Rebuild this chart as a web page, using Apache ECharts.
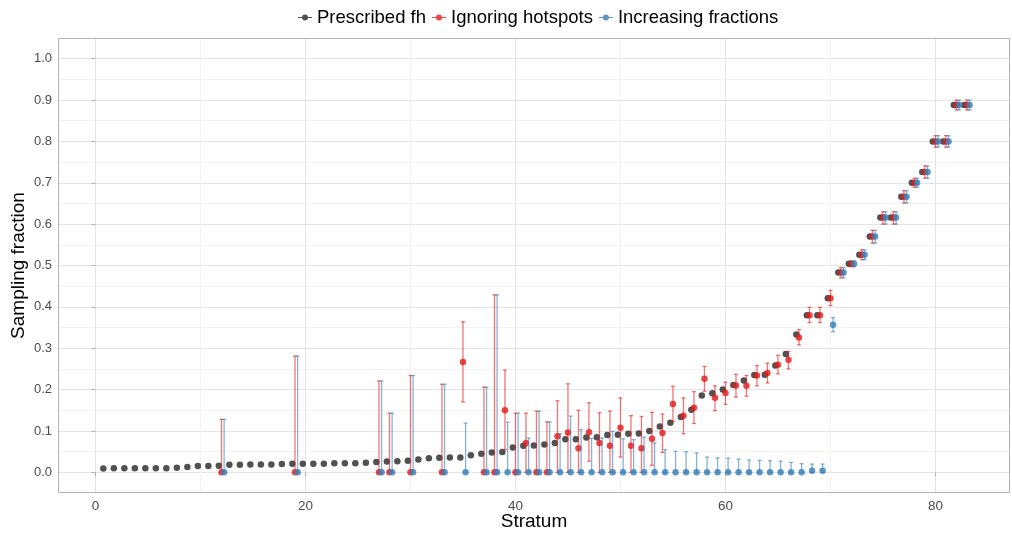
<!DOCTYPE html>
<html><head><meta charset="utf-8">
<script src="https://cdn.jsdelivr.net/npm/echarts@6/dist/echarts.min.js"></script>
<style>html,body{margin:0;padding:0;background:#fff}#c{width:1012px;height:533px}</style>
</head><body><div id="c"></div>
<script>
// ---- data ----
const strata = [1,2,3,4,5,6,7,8,9,10,11,12,13,14,15,16,17,18,19,20,21,22,23,24,25,26,27,28,29,30,
  31,32,33,34,35,36,37,38,39,40,41,42,43,44,45,46,47,48,49,50,51,52,53,54,55,56,57,58,59,60,
  61,62,63,64,65,66,67,68,69,70,71,72,73,74,75,76,77,78,79,80,81,82,83];
const prescribed = [0.009,0.010,0.010,0.010,0.010,0.010,0.010,0.011,0.013,0.015,0.015,0.016,0.018,0.018,0.019,0.019,0.019,0.020,0.021,0.021,
  0.021,0.021,0.022,0.022,0.022,0.023,0.025,0.026,0.027,0.028,0.031,0.034,0.035,0.036,0.036,0.041,0.045,0.048,0.049,0.060,
  0.064,0.065,0.067,0.071,0.080,0.080,0.084,0.085,0.090,0.091,0.093,0.094,0.100,0.111,0.120,0.134,0.151,0.186,0.191,0.200,
  0.211,0.222,0.235,0.236,0.258,0.286,0.333,0.380,0.380,0.421,0.483,0.504,0.526,0.570,0.616,0.616,0.666,0.700,0.726,0.800,
  0.800,0.888,0.888];

const estStrata = [12,19,27,28,30,33,35,37,38,39,40,41,42,43,44,45,46,47,48,49,50,51,52,53,54,55,56,57,58,59,60,
  61,62,63,64,65,66,67,68,69,70,71,72,73,74,75,76,77,78,79,80,81,82,83];

const ignoringVal = [0,0,0,0,0,0,0.267,0,0,0.150,0,0.071,0,0,0.087,0.096,0.058,0.097,0.071,0.064,0.108,0.064,0.058,0.081,0.095,0.165,0.137,0.156,0.226,0.180,0.192,
  0.210,0.209,0.234,0.240,0.260,0.272,0.326,0.380,0.380,0.421,0.483,0.504,0.526,0.570,0.616,0.616,0.666,0.700,0.726,0.800,0.800,0.888,0.888];
const ignoringLo = [0,0,0,0,0,0,0.170,0,0,0.055,0,0,0,0,0,0,0,0.027,0,0,0.037,0,0,0.017,0.048,0.123,0.093,0.118,0.196,0.149,0.164,
  0.182,0.184,0.209,0.216,0.238,0.250,0.308,0.362,0.362,0.403,0.470,0.497,0.514,0.554,0.600,0.600,0.651,0.689,0.711,0.786,0.786,0.876,0.876];
const ignoringHi = [0.128,0.281,0.221,0.143,0.234,0.213,0.364,0.206,0.429,0.247,0.143,0.143,0.148,0.122,0.173,0.214,0.150,0.168,0.144,0.148,0.180,0.137,0.135,0.145,0.141,0.208,0.180,0.195,0.256,0.209,0.218,
  0.237,0.234,0.258,0.264,0.283,0.292,0.345,0.399,0.399,0.440,0.495,0.511,0.538,0.585,0.630,0.630,0.681,0.711,0.741,0.814,0.814,0.900,0.900];

const increasingVal = [0,0,0,0,0,0,0,0,0,0,0,0,0,0,0,0,0,0,0,0,0,0,0,0,0,0,0,0,0,0,0,
  0,0,0,0,0,0,0,0.004,0.004,0.357,0.483,0.504,0.526,0.570,0.616,0.616,0.666,0.700,0.726,0.800,0.800,0.888,0.888];
const increasingLo = [0,0,0,0,0,0,0,0,0,0,0,0,0,0,0,0,0,0,0,0,0,0,0,0,0,0,0,0,0,0,0,
  0,0,0,0,0,0,0,0,0,0.340,0.470,0.497,0.514,0.554,0.600,0.600,0.651,0.689,0.711,0.786,0.786,0.876,0.876];
const increasingHi = [0.128,0.281,0.221,0.143,0.234,0.213,0.119,0.206,0.429,0.121,0.143,0.083,0.148,0.122,0.093,0.136,0.103,0.082,0.083,0.099,0.081,0.079,0.085,0.071,0.055,0.051,0.050,0.047,0.037,0.035,0.034,
  0.032,0.030,0.029,0.028,0.027,0.024,0.021,0.020,0.020,0.374,0.495,0.511,0.538,0.585,0.630,0.630,0.681,0.711,0.741,0.814,0.814,0.900,0.900];

const seriesNames = ['Prescribed fh', 'Ignoring hotspots', 'Increasing fractions'];
const colors = ['#262626', '#E41A1C', '#377EB8'];
const dodge = [-0.25, 0, 0.25];

// ---- chart ----
const FONT = '"Liberation Sans", Arial, sans-serif';
const chart = echarts.init(document.getElementById('c'), null, {renderer: 'canvas'});

const PL = 58, PR = 1010, PT = 38, PB = 493;          // panel in px
const xMinB = -3.57, xMaxB = 87.1;                     // panel x domain
const pxPerUnit = (PR - PL) / (xMaxB - xMinB);
const x0px = PL - xMinB * pxPerUnit;
// extended grid for vertical gridlines (domain -20..100)
const gAleft = x0px - 20 * pxPerUnit;
const gAright = 1012 - (x0px + 100 * pxPerUnit);
// y: panel domain -0.05..1.05 ; grid B covers 0..1
const pxPerY = (PB - PT) / 1.1;
const gBtop = PT + 0.05 * pxPerY;
const gBbottom = 533 - (PB - 0.05 * pxPerY);

function errorBars(offset, color, opacity) {
  return function (params, api) {
    const x = api.value(0) + offset;
    const lo = api.coord([x, api.value(1)]);
    const hi = api.coord([x, api.value(2)]);
    const hw = 2;
    const st = {stroke: color, lineWidth: 1.3, opacity: opacity};
    return {type: 'group', children: [
      {type: 'line', shape: {x1: lo[0], y1: lo[1], x2: hi[0], y2: hi[1]}, style: st},
      {type: 'line', shape: {x1: lo[0] - hw, y1: lo[1], x2: lo[0] + hw, y2: lo[1]}, style: st},
      {type: 'line', shape: {x1: hi[0] - hw, y1: hi[1], x2: hi[0] + hw, y2: hi[1]}, style: st}
    ]};
  };
}

const blackPts = strata.map((s, i) => [s + dodge[0], prescribed[i]]);
const redPts = estStrata.map((s, i) => [s + dodge[1], ignoringVal[i]]);
const bluePts = estStrata.map((s, i) => [s + dodge[2], increasingVal[i]]);
const redErr = estStrata.map((s, i) => [s, ignoringLo[i], ignoringHi[i]]);
const blueErr = estStrata.map((s, i) => [s, increasingLo[i], increasingHi[i]]);

// legend key: short horizontal line with a dot in the middle
const keyIcon = 'path://M0,2.6 L14,2.6 L14,3.4 L0,3.4 Z M4,3 A3,3 0 1 1 10,3 A3,3 0 1 1 4,3 Z';

const option = {
  backgroundColor: '#ffffff',
  animation: false,
  textStyle: {fontFamily: FONT},
  legend: {
    top: 3, left: 293,
    data: seriesNames.map(n => ({name: n, icon: keyIcon})),
    itemWidth: 14, itemHeight: 6, itemGap: 6,
    textStyle: {fontSize: 18.5, color: '#000', fontFamily: FONT}
  },
  grid: [
    {left: gAleft, right: gAright, top: PT, bottom: 533 - PB, outerBoundsMode: 'none', containLabel: false},
    {left: PL, right: 1012 - PR, top: gBtop, bottom: gBbottom, outerBoundsMode: 'none', containLabel: false}
  ],
  xAxis: [
    {gridIndex: 0, type: 'value', min: -20, max: 100, interval: 20,
     axisLine: {show: false},
     axisTick: {show: true, length: 4, lineStyle: {color: '#b3b3b3'}},
     axisLabel: {color: '#4d4d4d', fontSize: 13.5, margin: 6, fontFamily: FONT},
     splitLine: {show: true, lineStyle: {color: '#e4e4e4', width: 1}},
     minorTick: {show: false, splitNumber: 2},
     minorSplitLine: {show: true, lineStyle: {color: '#f2f2f2', width: 1}}
    },
    {gridIndex: 1, type: 'value', min: xMinB, max: xMaxB,
     axisLine: {show: false}, axisTick: {show: false}, axisLabel: {show: false}, splitLine: {show: false},
     name: 'Stratum', nameLocation: 'middle', nameGap: 40, nameMoveOverlap: false,
     nameTextStyle: {fontSize: 19, color: '#000', fontFamily: FONT}
    }
  ],
  yAxis: [
    {gridIndex: 0, type: 'value', min: -0.05, max: 1.05, show: false},
    {gridIndex: 1, type: 'value', min: 0, max: 1, interval: 0.1,
     axisLine: {show: false},
     axisTick: {show: true, length: 4, lineStyle: {color: '#b3b3b3'}},
     axisLabel: {color: '#4d4d4d', fontSize: 13, margin: 6, fontFamily: FONT,
       formatter: v => v.toFixed(1)},
     splitLine: {show: true, lineStyle: {color: '#e4e4e4', width: 1}},
     minorTick: {show: false, splitNumber: 2},
     minorSplitLine: {show: true, lineStyle: {color: '#f2f2f2', width: 1}},
     name: 'Sampling fraction', nameLocation: 'middle', nameGap: 30, nameRotate: 90, nameMoveOverlap: false,
     nameTextStyle: {fontSize: 19, color: '#000', fontFamily: FONT}
    }
  ],
  graphic: [{
    type: 'rect', z: 100, silent: true,
    shape: {x: PL + 0.5, y: PT + 0.5, width: PR - PL - 1, height: PB - PT - 1},
    style: {fill: 'none', stroke: '#b3b3b3', lineWidth: 1}
  }],
  series: [
    {name: seriesNames[0], type: 'scatter', xAxisIndex: 1, yAxisIndex: 1, data: blackPts,
     symbol: 'circle', symbolSize: 6.5, clip: false, itemStyle: {color: colors[0]}, z: 3},
    {name: 'redErr', type: 'custom', xAxisIndex: 1, yAxisIndex: 1, data: redErr, silent: true,
     renderItem: errorBars(dodge[1], colors[1], 0.6), encode: {x: 0, y: [1, 2]}, z: 4},
    {name: seriesNames[1], type: 'scatter', xAxisIndex: 1, yAxisIndex: 1, data: redPts,
     symbol: 'circle', symbolSize: 6.5, clip: false, itemStyle: {color: colors[1]}, z: 5},
    {name: 'blueErr', type: 'custom', xAxisIndex: 1, yAxisIndex: 1, data: blueErr, silent: true,
     renderItem: errorBars(dodge[2], colors[2], 0.6), encode: {x: 0, y: [1, 2]}, z: 6},
    {name: seriesNames[2], type: 'scatter', xAxisIndex: 1, yAxisIndex: 1, data: bluePts,
     symbol: 'circle', symbolSize: 6.5, clip: false, itemStyle: {color: colors[2]}, z: 7}
  ]
};
chart.setOption(option);
</script></body></html>
